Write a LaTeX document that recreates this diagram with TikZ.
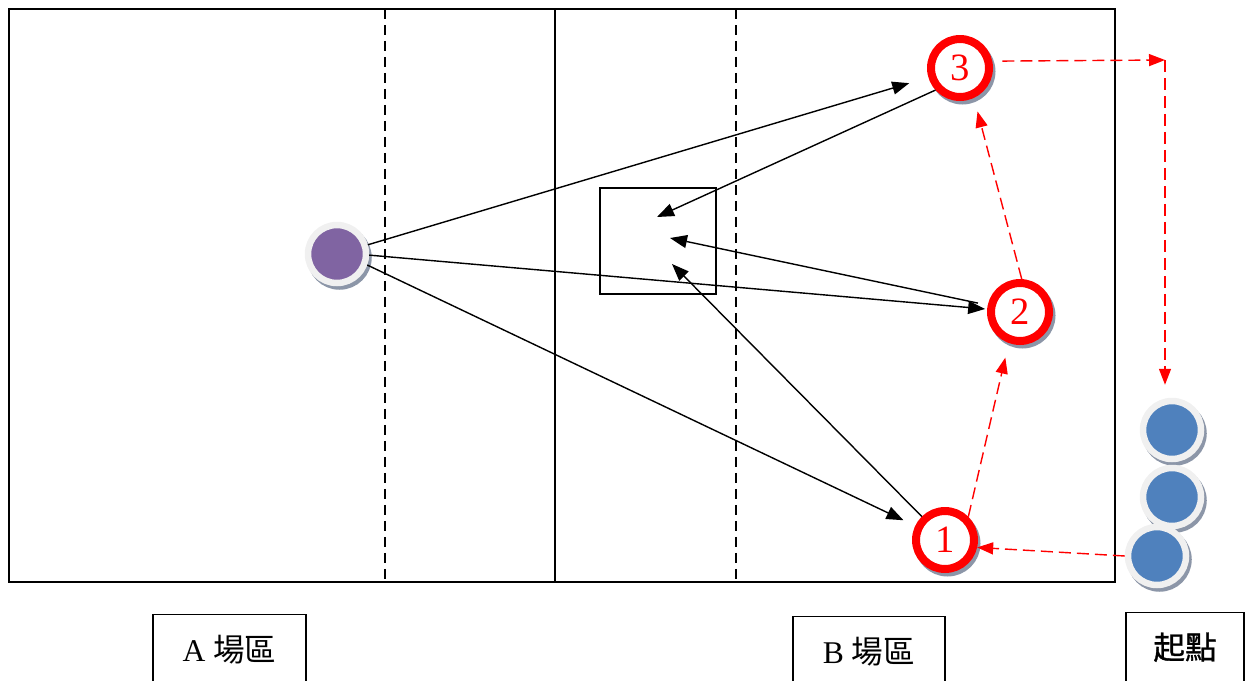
\documentclass[tikz,border=0pt]{standalone}
\usepackage{fontspec}
\setmainfont{Liberation Serif}
\newfontfamily\cjk{Noto Sans CJK TC}
\newfontfamily\cjkb[FakeBold=1]{Noto Sans CJK TC}
\usetikzlibrary{arrows.meta,shadows}
\definecolor{ringgray}{RGB}{240,240,240}
\definecolor{shadowgray}{RGB}{140,150,168}
\definecolor{ballpurple}{RGB}{128,100,162}
\definecolor{ballblue}{RGB}{79,129,189}

\begin{document}
\begin{tikzpicture}[x=0.02cm,y=-0.02cm,
  ballshadow/.style={drop shadow={shadow xshift=0.05cm,shadow yshift=-0.07cm,fill=shadowgray,draw=shadowgray,opacity=1}},
  ball/.style={circle,draw=ringgray,line width=0.13cm,minimum size=1.16cm,inner sep=0pt,ballshadow},
  cone/.style={circle,draw=red,fill=white,line width=0.16cm,minimum size=1.16cm,inner sep=0pt,text=red,font=\fontsize{22}{22}\selectfont,ballshadow},
  zone/.style={draw,line width=0.8pt,anchor=north,minimum height=1.38cm,font=\fontsize{18}{18}\selectfont},
  pass/.style={-{Triangle[length=0.34cm,width=0.26cm]},line width=0.8pt},
  run/.style={red,dash pattern=on 0.24cm off 0.12cm,-{Triangle[length=0.32cm,width=0.24cm]},line width=0.8pt}]
\useasboundingbox (0,0) rectangle (1247,680);
% court
\draw[line width=0.8pt] (9,9) rectangle (1115,582);
\draw[line width=0.8pt] (555,9) -- (555,582);
\draw[line width=0.8pt,dash pattern=on 0.2cm off 0.12cm] (385,9) -- (385,582);
\draw[line width=0.8pt,dash pattern=on 0.2cm off 0.12cm] (736,9) -- (736,582);
\draw[line width=0.8pt] (600,188) rectangle (716,294);
\coordinate (t3) at (657,217);
\coordinate (t2) at (670,238);
\coordinate (t1) at (672,264);
% players
\node[ball,fill=ballpurple] (p) at (337,254) {};
\node[cone] (r3) at (960,68) {3};
\node[cone] (r2) at (1020,312) {2};
\node[cone] (r1) at (945,540) {1};
\node[ball,fill=ballblue] (b1) at (1172,430) {};
\node[ball,fill=ballblue] (b2) at (1172,497) {};
\node[ball,fill=ballblue] (b3) at (1157,556) {};
% passes
\draw[pass,shorten >=0.4cm] (p) -- (r3);
\draw[pass,shorten >=0.04cm] (p.-2) -- (r2);
\draw[pass,shorten >=0.26cm] (p.-20) -- (r1);
\draw[pass] (r3.222) -- (t3);
\draw[pass,shorten <=0.2cm] (r2) -- (t2);
\draw[pass] (r1) -- (t1);
% runs
\coordinate (c) at (1165,60);
\draw[run] (b3.west) -- (r1.-13);
\draw[run,shorten >=0.3cm] (r1.45) -- (r2.250);
\draw[run,shorten >=0.28cm] (r2.87) -- (r3.295);
\draw[run,shorten <=0.2cm] (r3.12) -- (c);
\draw[run,shorten >=0.26cm] (c) -- (c |- b1.north);
% labels
\node[zone,minimum width=3.06cm] (za) at (229.5,614) {A {\cjk 場區}};
\node[zone,minimum width=3.04cm] (zb) at (869,616) {B {\cjk 場區}};
\node[zone,minimum width=2.36cm,font=\fontsize{18}{18}\selectfont\cjkb] (zs) at (1185,612) {起點};
\end{tikzpicture}
\end{document}
